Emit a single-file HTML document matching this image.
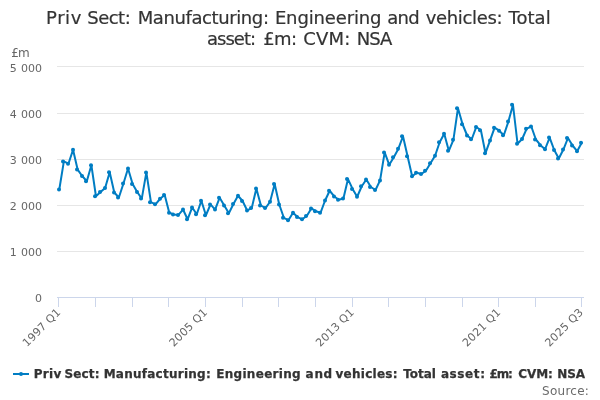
<!DOCTYPE html>
<html><head><meta charset="utf-8"><title>Chart</title>
<style>
html,body{margin:0;padding:0;background:#fff;}
body{width:600px;height:400px;overflow:hidden;font-family:"DejaVu Sans","Liberation Sans",sans-serif;}
svg{display:block}
</style></head><body>
<svg width="600" height="400" viewBox="0 0 600 400" font-family="DejaVu Sans, Liberation Sans, sans-serif">
<rect width="600" height="400" fill="#fff"/>
<g><path d="M 57 66.5 L 584 66.5" stroke="#E6E6E6" stroke-width="1"/><path d="M 57 113.5 L 584 113.5" stroke="#E6E6E6" stroke-width="1"/><path d="M 57 159.5 L 584 159.5" stroke="#E6E6E6" stroke-width="1"/><path d="M 57 205.5 L 584 205.5" stroke="#E6E6E6" stroke-width="1"/><path d="M 57 251.5 L 584 251.5" stroke="#E6E6E6" stroke-width="1"/></g>
<path d="M 57 297.5 L 584 297.5" stroke="#CCD6EB" stroke-width="1"/>
<g><path d="M 58.5 297 L 58.5 307" stroke="#CCD6EB" stroke-width="1"/><path d="M 95.5 297 L 95.5 307" stroke="#CCD6EB" stroke-width="1"/><path d="M 132.5 297 L 132.5 307" stroke="#CCD6EB" stroke-width="1"/><path d="M 168.5 297 L 168.5 307" stroke="#CCD6EB" stroke-width="1"/><path d="M 205.5 297 L 205.5 307" stroke="#CCD6EB" stroke-width="1"/><path d="M 242.5 297 L 242.5 307" stroke="#CCD6EB" stroke-width="1"/><path d="M 278.5 297 L 278.5 307" stroke="#CCD6EB" stroke-width="1"/><path d="M 315.5 297 L 315.5 307" stroke="#CCD6EB" stroke-width="1"/><path d="M 352.5 297 L 352.5 307" stroke="#CCD6EB" stroke-width="1"/><path d="M 388.5 297 L 388.5 307" stroke="#CCD6EB" stroke-width="1"/><path d="M 425.5 297 L 425.5 307" stroke="#CCD6EB" stroke-width="1"/><path d="M 462.5 297 L 462.5 307" stroke="#CCD6EB" stroke-width="1"/><path d="M 498.5 297 L 498.5 307" stroke="#CCD6EB" stroke-width="1"/><path d="M 535.5 297 L 535.5 307" stroke="#CCD6EB" stroke-width="1"/><path d="M 581.5 297 L 581.5 307" stroke="#CCD6EB" stroke-width="1"/></g>
<g fill="none" stroke="#007DC3" stroke-width="2" stroke-linejoin="round" stroke-linecap="round"><path d="M 59.29 189.50 L 63.87 161.45 L 68.46 163.70 L 73.04 149.75 L 77.62 169.55 L 82.20 176.00 L 86.79 181.25 L 91.37 165.20 L 95.95 196.25 L 100.53 192.05 L 105.12 188.00 L 109.70 172.25 L 114.28 192.50 L 118.87 197.45 L 123.45 183.50 L 128.03 168.50 L 132.61 183.95 L 137.20 192.05 L 141.78 198.60 L 146.36 172.40 L 150.94 202.20 L 155.53 204.30 L 160.11 198.75 L 164.69 195.00 L 169.27 212.70 L 173.86 214.50 L 178.44 214.95 L 183.02 209.55 L 187.60 219.30 L 192.19 207.45 L 196.77 214.20 L 201.35 200.70 L 205.93 215.25 L 210.52 204.45 L 215.10 209.55 L 219.68 197.70 L 224.27 205.50 L 228.85 213.20 L 233.43 204.00 L 238.01 195.75 L 242.60 201.00 L 247.18 210.45 L 251.76 208.05 L 256.34 188.55 L 260.93 205.50 L 265.51 208.05 L 270.09 201.75 L 274.67 184.05 L 279.26 204.45 L 283.84 217.80 L 288.42 220.20 L 293.00 212.70 L 297.59 217.05 L 302.17 219.30 L 306.75 216.00 L 311.33 208.40 L 315.92 211.20 L 320.50 212.80 L 325.08 200.50 L 329.67 190.75 L 334.25 196.45 L 338.83 199.75 L 343.41 198.55 L 348.00 179.05 L 352.58 188.95 L 357.16 196.75 L 361.74 186.25 L 366.33 179.50 L 370.91 187.00 L 375.49 190.00 L 380.07 180.40 L 384.66 152.45 L 389.24 164.85 L 393.82 157.25 L 398.40 148.70 L 402.99 136.25 L 407.57 156.20 L 412.15 176.30 L 416.73 172.70 L 421.32 174.05 L 425.90 170.75 L 430.48 163.25 L 435.07 155.75 L 439.65 142.25 L 444.23 133.85 L 448.81 150.80 L 453.40 139.85 L 457.98 108.20 L 462.56 124.25 L 467.14 135.50 L 471.73 139.25 L 476.31 126.95 L 480.89 130.25 L 485.47 153.20 L 490.06 140.45 L 494.64 127.70 L 499.22 130.70 L 503.80 135.20 L 508.39 121.60 L 512.97 104.75 L 517.55 143.75 L 522.13 139.00 L 526.72 128.65 L 531.30 126.50 L 535.88 139.50 L 540.47 145.20 L 545.05 149.25 L 549.63 137.55 L 554.21 150.00 L 558.80 158.55 L 563.38 149.55 L 567.96 138.00 L 572.54 145.50 L 577.13 151.20 L 581.71 142.80"/></g>
<g fill="#007DC3"><circle cx="59" cy="189.50" r="2"/><circle cx="63" cy="161.45" r="2"/><circle cx="68" cy="163.70" r="2"/><circle cx="73" cy="149.75" r="2"/><circle cx="77" cy="169.55" r="2"/><circle cx="82" cy="176.00" r="2"/><circle cx="86" cy="181.25" r="2"/><circle cx="91" cy="165.20" r="2"/><circle cx="95" cy="196.25" r="2"/><circle cx="100" cy="192.05" r="2"/><circle cx="105" cy="188.00" r="2"/><circle cx="109" cy="172.25" r="2"/><circle cx="114" cy="192.50" r="2"/><circle cx="118" cy="197.45" r="2"/><circle cx="123" cy="183.50" r="2"/><circle cx="128" cy="168.50" r="2"/><circle cx="132" cy="183.95" r="2"/><circle cx="137" cy="192.05" r="2"/><circle cx="141" cy="198.60" r="2"/><circle cx="146" cy="172.40" r="2"/><circle cx="150" cy="202.20" r="2"/><circle cx="155" cy="204.30" r="2"/><circle cx="160" cy="198.75" r="2"/><circle cx="164" cy="195.00" r="2"/><circle cx="169" cy="212.70" r="2"/><circle cx="173" cy="214.50" r="2"/><circle cx="178" cy="214.95" r="2"/><circle cx="183" cy="209.55" r="2"/><circle cx="187" cy="219.30" r="2"/><circle cx="192" cy="207.45" r="2"/><circle cx="196" cy="214.20" r="2"/><circle cx="201" cy="200.70" r="2"/><circle cx="205" cy="215.25" r="2"/><circle cx="210" cy="204.45" r="2"/><circle cx="215" cy="209.55" r="2"/><circle cx="219" cy="197.70" r="2"/><circle cx="224" cy="205.50" r="2"/><circle cx="228" cy="213.20" r="2"/><circle cx="233" cy="204.00" r="2"/><circle cx="238" cy="195.75" r="2"/><circle cx="242" cy="201.00" r="2"/><circle cx="247" cy="210.45" r="2"/><circle cx="251" cy="208.05" r="2"/><circle cx="256" cy="188.55" r="2"/><circle cx="260" cy="205.50" r="2"/><circle cx="265" cy="208.05" r="2"/><circle cx="270" cy="201.75" r="2"/><circle cx="274" cy="184.05" r="2"/><circle cx="279" cy="204.45" r="2"/><circle cx="283" cy="217.80" r="2"/><circle cx="288" cy="220.20" r="2"/><circle cx="293" cy="212.70" r="2"/><circle cx="297" cy="217.05" r="2"/><circle cx="302" cy="219.30" r="2"/><circle cx="306" cy="216.00" r="2"/><circle cx="311" cy="208.40" r="2"/><circle cx="315" cy="211.20" r="2"/><circle cx="320" cy="212.80" r="2"/><circle cx="325" cy="200.50" r="2"/><circle cx="329" cy="190.75" r="2"/><circle cx="334" cy="196.45" r="2"/><circle cx="338" cy="199.75" r="2"/><circle cx="343" cy="198.55" r="2"/><circle cx="347" cy="179.05" r="2"/><circle cx="352" cy="188.95" r="2"/><circle cx="357" cy="196.75" r="2"/><circle cx="361" cy="186.25" r="2"/><circle cx="366" cy="179.50" r="2"/><circle cx="370" cy="187.00" r="2"/><circle cx="375" cy="190.00" r="2"/><circle cx="380" cy="180.40" r="2"/><circle cx="384" cy="152.45" r="2"/><circle cx="389" cy="164.85" r="2"/><circle cx="393" cy="157.25" r="2"/><circle cx="398" cy="148.70" r="2"/><circle cx="402" cy="136.25" r="2"/><circle cx="407" cy="156.20" r="2"/><circle cx="412" cy="176.30" r="2"/><circle cx="416" cy="172.70" r="2"/><circle cx="421" cy="174.05" r="2"/><circle cx="425" cy="170.75" r="2"/><circle cx="430" cy="163.25" r="2"/><circle cx="435" cy="155.75" r="2"/><circle cx="439" cy="142.25" r="2"/><circle cx="444" cy="133.85" r="2"/><circle cx="448" cy="150.80" r="2"/><circle cx="453" cy="139.85" r="2"/><circle cx="457" cy="108.20" r="2"/><circle cx="462" cy="124.25" r="2"/><circle cx="467" cy="135.50" r="2"/><circle cx="471" cy="139.25" r="2"/><circle cx="476" cy="126.95" r="2"/><circle cx="480" cy="130.25" r="2"/><circle cx="485" cy="153.20" r="2"/><circle cx="490" cy="140.45" r="2"/><circle cx="494" cy="127.70" r="2"/><circle cx="499" cy="130.70" r="2"/><circle cx="503" cy="135.20" r="2"/><circle cx="508" cy="121.60" r="2"/><circle cx="512" cy="104.75" r="2"/><circle cx="517" cy="143.75" r="2"/><circle cx="522" cy="139.00" r="2"/><circle cx="526" cy="128.65" r="2"/><circle cx="531" cy="126.50" r="2"/><circle cx="535" cy="139.50" r="2"/><circle cx="540" cy="145.20" r="2"/><circle cx="545" cy="149.25" r="2"/><circle cx="549" cy="137.55" r="2"/><circle cx="554" cy="150.00" r="2"/><circle cx="558" cy="158.55" r="2"/><circle cx="563" cy="149.55" r="2"/><circle cx="567" cy="138.00" r="2"/><circle cx="572" cy="145.50" r="2"/><circle cx="577" cy="151.20" r="2"/><circle cx="581" cy="142.80" r="2"/></g>
<text y="24" font-size="18" font-weight="normal" fill="#333333" stroke="#333333" stroke-width="0.2"><tspan x="46.10" textLength="35.19">Priv</tspan> <tspan x="87.22" textLength="43.52">Sect:</tspan> <tspan x="137.64" textLength="131.32">Manufacturing:</tspan> <tspan x="274.90" textLength="106.58">Engineering</tspan> <tspan x="387.34" textLength="32.39">and</tspan> <tspan x="425.82" textLength="76.67">vehicles:</tspan> <tspan x="508.43" textLength="42.25">Total</tspan></text>
<text y="45" font-size="18" font-weight="normal" fill="#333333" stroke="#333333" stroke-width="0.2"><tspan x="207.09" textLength="48.90">asset:</tspan> <tspan x="263.24" textLength="33.75">£m:</tspan> <tspan x="303.32" textLength="46.99">CVM:</tspan> <tspan x="356.76" textLength="35.48">NSA</tspan></text>
<text x="11.3" y="57" textLength="18.3" font-size="12" fill="#666666">£m</text>
<g font-size="11" fill="#666666"><text y="72"><tspan x="9.7">5</tspan> <tspan x="21.1">000</tspan></text><text y="118"><tspan x="9.7">4</tspan> <tspan x="21.1">000</tspan></text><text y="164"><tspan x="9.7">3</tspan> <tspan x="21.1">000</tspan></text><text y="210"><tspan x="9.7">2</tspan> <tspan x="21.1">000</tspan></text><text y="256"><tspan x="9.7">1</tspan> <tspan x="21.1">000</tspan></text><text x="42" y="302" text-anchor="end">0</text></g>
<g font-size="11" fill="#666666"><text x="61.29" y="313" text-anchor="end" textLength="48.4" transform="rotate(-45 61.29 313)">1997 Q1</text><text x="207.93" y="313" text-anchor="end" textLength="48.4" transform="rotate(-45 207.93 313)">2005 Q1</text><text x="354.58" y="313" text-anchor="end" textLength="48.4" transform="rotate(-45 354.58 313)">2013 Q1</text><text x="501.22" y="313" text-anchor="end" textLength="48.4" transform="rotate(-45 501.22 313)">2021 Q1</text><text x="583.71" y="313" text-anchor="end" textLength="48.4" transform="rotate(-45 583.71 313)">2025 Q3</text></g>
<path d="M 13 374 L 29 374" stroke="#007DC3" stroke-width="2"/><circle cx="21" cy="374" r="2" fill="#007DC3"/>
<text y="378" font-size="12" font-weight="bold" fill="#333333" stroke="#333333" stroke-width="0.25"><tspan x="33.66" textLength="27.67">Priv</tspan> <tspan x="64.54" textLength="34.97">Sect:</tspan> <tspan x="103.67" textLength="107.06">Manufacturing:</tspan> <tspan x="216.16" textLength="84.51">Engineering</tspan> <tspan x="305.60" textLength="26.60">and</tspan> <tspan x="335.50" textLength="62.03">vehicles:</tspan> <tspan x="403.30" textLength="32.62">Total</tspan> <tspan x="440.90" textLength="44.08">asset:</tspan> <tspan x="489.43" textLength="23.44">£m:</tspan> <tspan x="518.30" textLength="34.61">CVM:</tspan> <tspan x="557.31" textLength="27.67">NSA</tspan></text>
<text x="542" y="395" textLength="46.9" font-size="12" fill="#6a6a6a">Source:</text>
</svg>
</body></html>
